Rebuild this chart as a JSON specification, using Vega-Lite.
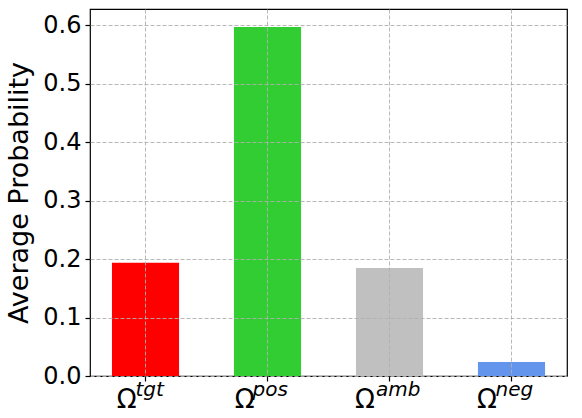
{
  "$schema": "https://vega.github.io/schema/vega-lite/v6.json",
  "autosize": "none",
  "width": 477,
  "height": 367,
  "padding": {"left": 90, "top": 9, "right": 15, "bottom": 42},
  "background": "white",
  "config": {
    "font": "DejaVu Sans",
    "view": {"stroke": "black", "strokeWidth": 1.2}
  },
  "data": {
    "values": [
      {"group": "tgt", "prob": 0.194, "color": "#ff0000"},
      {"group": "pos", "prob": 0.597, "color": "#32cd32"},
      {"group": "amb", "prob": 0.185, "color": "#c0c0c0"},
      {"group": "neg", "prob": 0.024, "color": "#6495ed"}
    ]
  },
  "resolve": {"scale": {"x": "shared"}, "axis": {"x": "independent"}},
  "layer": [
    {
      "mark": {"type": "bar"},
      "encoding": {
        "x": {
          "field": "group",
          "type": "nominal",
          "sort": null,
          "scale": {"paddingInner": 0.45, "paddingOuter": 0.18},
          "axis": {
            "orient": "bottom",
            "title": null,
            "labelAngle": 0,
            "labelExpr": "'Ω'",
            "labelFontSize": 26,
            "labelColor": "black",
            "labelAlign": "right",
            "labelBaseline": "alphabetic",
            "labelPadding": 26,
            "labelOffset": {
              "condition": [
                {"test": "datum.value == 'tgt'", "value": -9},
                {"test": "datum.value == 'pos'", "value": -13},
                {"test": "datum.value == 'amb'", "value": -14.5}
              ],
              "value": -14.5
            },
            "domain": false,
            "ticks": true,
            "tickColor": "black",
            "tickSize": 5,
            "tickWidth": 1.2,
            "grid": true,
            "gridColor": "#b0b0b0",
            "gridDash": [4, 2],
            "gridWidth": 0.9,
            "zindex": 1
          }
        },
        "y": {
          "field": "prob",
          "type": "quantitative",
          "scale": {"domain": [0, 0.628], "nice": false, "zero": true},
          "axis": {
            "title": "Average Probability",
            "titleFontSize": 27,
            "titleFontWeight": "normal",
            "titleColor": "black",
            "titlePadding": 9,
            "values": [0, 0.1, 0.2, 0.3, 0.4, 0.5, 0.6],
            "format": ".1f",
            "labelFontSize": 24,
            "labelColor": "black",
            "labelPadding": 4,
            "domain": false,
            "tickColor": "black",
            "tickSize": 5,
            "tickWidth": 1.2,
            "grid": true,
            "gridColor": "#b0b0b0",
            "gridDash": [4, 2],
            "gridWidth": 0.9,
            "zindex": 1
          }
        },
        "color": {"field": "color", "type": "nominal", "scale": null, "legend": null}
      }
    },
    {
      "mark": {"type": "bar", "opacity": 0},
      "encoding": {
        "x": {
          "field": "group",
          "type": "nominal",
          "sort": null,
          "axis": {
            "orient": "bottom",
            "title": null,
            "labelAngle": 0,
            "labelFontSize": 20,
            "labelFontStyle": "italic",
            "labelColor": "black",
            "labelAlign": "left",
            "labelBaseline": "alphabetic",
            "labelPadding": 19,
            "labelOffset": {
              "condition": [
                {"test": "datum.value == 'tgt'", "value": -10},
                {"test": "datum.value == 'pos'", "value": -15},
                {"test": "datum.value == 'amb'", "value": -13.5}
              ],
              "value": -16
            },
            "domain": false,
            "ticks": false,
            "tickSize": 0,
            "grid": false
          }
        },
        "y": {"field": "prob", "type": "quantitative"}
      }
    }
  ]
}
